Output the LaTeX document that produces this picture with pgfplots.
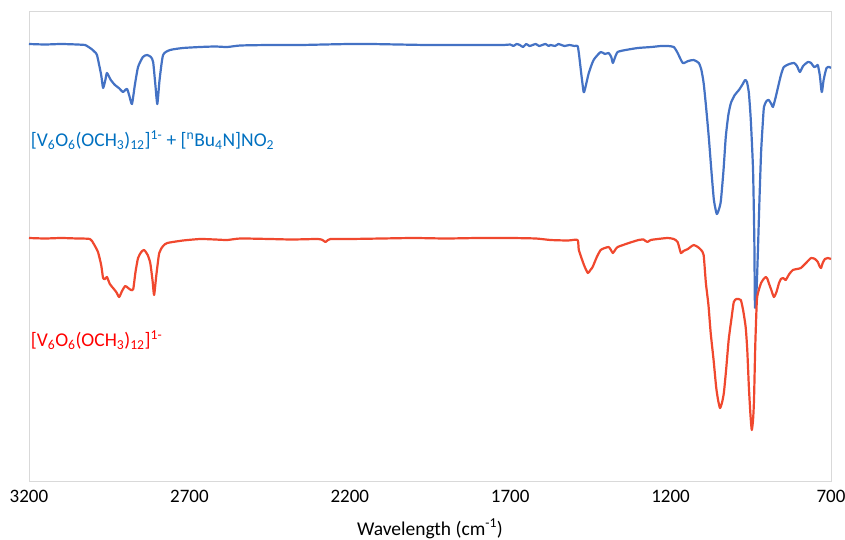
\documentclass[border=0pt]{standalone}
\usepackage{fontspec}
\setmainfont{Carlito}
\usepackage{pgfplots}
\pgfplotsset{compat=1.18}
\definecolor{blueline}{RGB}{68,114,196}
\definecolor{redline}{RGB}{240,72,46}
\definecolor{bluetext}{RGB}{0,112,192}
\definecolor{redtext}{RGB}{255,0,0}
\definecolor{frame}{RGB}{217,217,217}
\begin{document}
\begin{tikzpicture}
\useasboundingbox (0pt,0pt) rectangle (845pt,540pt);
\begin{axis}[
  at={(29pt,59pt)}, anchor=south west,
  scale only axis, width=802pt, height=470pt,
  x dir=reverse, xmin=700, xmax=3200,
  y dir=reverse, ymin=11, ymax=481,
  xtick={700,1200,1700,2200,2700,3200},
  ytick=\empty,
  major tick length=0pt,
  axis line style={draw=frame, line width=0.8pt},
  tick label style={font=\fontsize{19}{22}\selectfont, text=black},
  /pgf/number format/assume math mode=true,
  /pgf/number format/1000 sep={},
  xticklabel style={yshift=-6pt},
  xlabel={Wavelength (cm\textsuperscript{-1})},
  xlabel style={font=\fontsize{19.5}{22}\selectfont, yshift=-9pt},
  clip=true,
]
\addplot[blueline, line width=2.2pt, line join=round, smooth, tension=0.35] coordinates {
(3200,44) (3150,44.5) (3100,44) (3050,44.5) (3025,45) (3019,46) (3005,49) (2995,52) (2988,55)
(2975,75) (2969,88) (2962,80) (2957,73) (2945,80) (2932,85) (2920,88) (2907,92) (2900,90) (2894,89)
(2887,96) (2879,104) (2870,85) (2860,67) (2845,57) (2832,55) (2820,57) (2813,62) (2806,85) (2800,104)
(2793,80) (2782,55) (2760,50) (2720,48) (2666,47) (2620,46.5) (2582,47) (2541,45.5) (2450,45) (2354,45)
(2280,44.5) (2200,44) (2136,44) (2050,44.5) (1960,45) (1886,45) (1800,45) (1720,45) (1700,44.5) (1690,46)
(1680,44) (1670,45) (1660,47) (1650,44) (1640,46) (1630,45) (1620,44) (1610,46) (1600,45) (1590,44)
(1580,46) (1574,45) (1560,46) (1550,44) (1540,45) (1530,46) (1515,45) (1500,46) (1490,46) (1486,53)
(1478,75) (1471,92) (1466,88) (1455,73) (1440,60) (1418,52) (1405,54) (1393,53) (1385,57) (1380,63)
(1374,58) (1365,52) (1340,50) (1302,48) (1260,47) (1230,46) (1209,46) (1190,47) (1178,53) (1162,63)
(1145,61) (1128,60) (1112,63) (1104,70) (1097,83) (1090,105) (1081,137) (1073,170) (1065,200) (1056,214)
(1048,208) (1043,200) (1035,170) (1028,137) (1020,115) (1012,103) (1000,95) (987,90) (975,84) (968,80)
(962,82) (956,93) (950,120) (943,170) (939,240) (937,307) (932,290) (928,253) (923,200) (918,153)
(913,125) (909,107) (901,101) (894,100) (886,104) (881,107) (873,98) (865,87) (856,75) (847,67)
(830,64) (815,63) (806,66) (797,72) (787,66) (772,62) (762,63) (753,67) (745,66) (741,65)
(735,75) (730,90) (728,92) (723,80) (714,68) (705,67) (700,68)
};
\addplot[redline, line width=2.2pt, line join=round, smooth, tension=0.35] coordinates {
(3200,238) (3150,238.5) (3100,238) (3050,238.5) (3010,239) (2998,244) (2985,252) (2975,265) (2969,278)
(2963,279) (2957,277) (2948,284) (2938,288) (2928,292) (2919,297) (2910,291) (2900,286) (2891,288)
(2882,290) (2875,289) (2868,272) (2860,258) (2850,252) (2841,250) (2830,255) (2822,263) (2815,280)
(2810,295) (2803,275) (2794,253) (2782,246) (2769,243) (2720,240.5) (2666,239) (2620,239.5) (2582,240)
(2541,238.5) (2450,239) (2380,239.5) (2300,239) (2285,240) (2276,242) (2268,240) (2260,239) (2200,239)
(2100,238.5) (2000,238) (1900,238.5) (1800,238) (1700,238) (1620,238.5) (1574,240) (1520,240.5)
(1490,240) (1486,250) (1470,265) (1458,273) (1450,270) (1443,267) (1430,257) (1418,250) (1405,248)
(1393,247) (1386,250) (1380,253) (1373,250) (1365,247) (1330,243) (1300,240) (1284,239.5) (1278,241)
(1272,242) (1262,240) (1240,239) (1209,238) (1190,239) (1178,242) (1168,253) (1160,251) (1153,250)
(1146,249) (1138,247) (1128,245) (1115,247) (1105,250) (1097,255) (1090,283) (1082,305) (1075,333)
(1066,360) (1058,387) (1052,400) (1046,408) (1040,403) (1034,393) (1027,370) (1019,340) (1010,318)
(1003,302) (995,299) (988,299) (981,300) (974,310) (966,327) (961,350) (956,387) (951,415) (947,430)
(943,420) (940,400) (936,345) (931,300) (925,290) (918,283) (910,279) (903,277) (898,279) (894,283)
(886,290) (878,297) (870,292) (862,283) (856,279) (850,278) (845,279) (841,280) (830,274) (819,270)
(806,269) (794,268) (778,263) (762,258) (750,259) (741,262) (736,266) (731,268) (726,263) (719,259)
(710,258) (700,259)
};
\node[anchor=west, inner sep=0pt, text=bluetext, font=\fontsize{19.5}{22}\selectfont] at (axis cs:3195,140)
  {[V\textsubscript{6}O\textsubscript{6}(OCH\textsubscript{3})\textsubscript{12}]\textsuperscript{1-} + [\textsuperscript{n}Bu\textsubscript{4}N]NO\textsubscript{2}};
\node[anchor=west, inner sep=0pt, text=redtext, font=\fontsize{19.5}{22}\selectfont] at (axis cs:3195,340)
  {[V\textsubscript{6}O\textsubscript{6}(OCH\textsubscript{3})\textsubscript{12}]\textsuperscript{1-}};
\end{axis}
\end{tikzpicture}
\end{document}
